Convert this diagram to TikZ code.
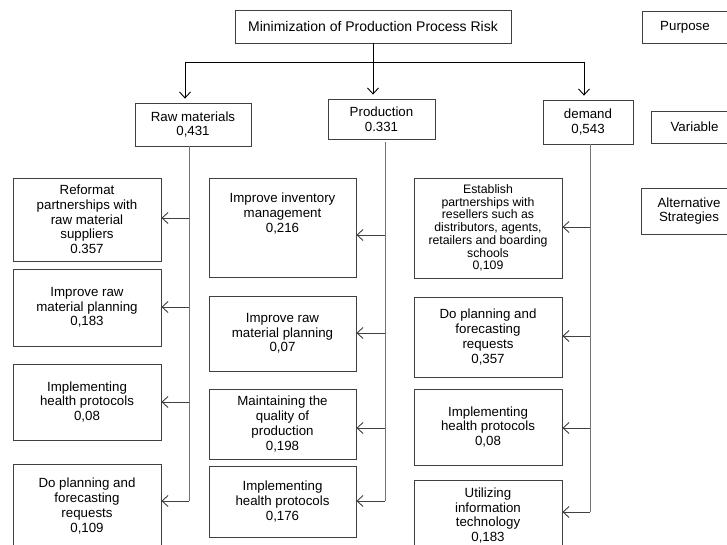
\documentclass[tikz,border=0pt]{standalone}
\usepackage{fontspec}
\setmainfont{Liberation Sans}
\usetikzlibrary{arrows.meta}
\tikzset{
  box/.style={draw=black!75, line width=0.8pt, align=center, inner sep=1pt,
    font=\fontsize{13.3}{14.7}\selectfont},
  titlebox/.style={box, font=\fontsize{14}{15}\selectfont},
  smallbox/.style={box, font=\fontsize{12.3}{12.7}\selectfont},
  link/.style={draw=black, line width=0.9pt},
  vline/.style={draw=black!55, line width=0.9pt},
  arr/.style={draw=black!75, line width=0.9pt, -{Straight Barb[length=6pt,width=11pt]}},
  darr/.style={draw=black, line width=0.9pt, -{Straight Barb[length=6pt,width=11pt]}, shorten >=4pt}
}
\newcommand{\bx}[7][box]{%
  \pgfmathsetmacro{\bw}{#5-#3}\pgfmathsetmacro{\bh}{#6-#4}%
  \pgfmathsetmacro{\bcx}{(#3+#5)/2}\pgfmathsetmacro{\bcy}{(#4+#6)/2}%
  \node[#1, minimum width=\bw pt, minimum height=\bh pt] (#2) at (\bcx,\bcy) {#7};}
\begin{document}
\begin{tikzpicture}[x=1pt,y=-1pt]
\clip (0,0) rectangle (727,545);
\fill[white] (0,0) rectangle (727,545);
% top level and legend
\bx[titlebox]{top}{235}{10}{511}{43}{Minimization of Production Process Risk}
\bx{purpose}{642}{11}{728}{43}{Purpose}
\bx{var}{651}{111}{738}{143}{Variable}
\bx{alt}{641}{188}{737}{234}{Alternative\\Strategies}
% variables
\bx{raw}{135}{103}{251}{146}{Raw materials\\0,431}
\bx{prod}{328}{99}{435}{139}{Production\\0.331}
\bx{dem}{543}{100}{633}{144}{demand\\0,543}
% left column
\bx{L1}{13}{178}{161}{261}{Reformat\\partnerships with\\raw material\\suppliers\\0.357}
\bx{L2}{13}{269}{161}{346}{Improve raw\\material planning\\0,183}
\bx{L3}{13}{364}{161}{440}{Implementing\\health protocols\\0,08}
\bx{L4}{13}{464}{161}{548}{Do planning and\\forecasting\\requests\\0,109}
% middle column
\bx{M1}{209}{178}{356}{277}{Improve inventory\\management\\0,216\\~\\~}
\bx{M2}{209}{296}{356}{371}{Improve raw\\material planning\\0,07}
\bx{M3}{209}{389}{356}{459}{Maintaining the\\quality of\\production\\0,198}
\bx{M4}{209}{466}{356}{537}{Implementing\\health protocols\\0,176}
% right column
\bx[smallbox]{R1}{414}{178}{562}{278}{Establish\\partnerships with\\resellers such as\\distributors, agents,\\retailers and boarding\\schools\\0,109}
\bx{R2}{414}{297}{562}{377}{Do planning and\\forecasting\\requests\\0,357}
\bx{R3}{414}{389}{562}{465}{Implementing\\health protocols\\0,08}
\bx{R4}{414}{480}{562}{551}{Utilizing\\information\\technology\\0,183}
% top connectors
\coordinate (hL) at (185,62);
\coordinate (hR) at (584,62);
\draw[link] (hL) -- (hR);
\draw[darr] (top.south) -- (top.south |- prod.north);
\draw[darr] (hL) -- (hL |- raw.north);
\draw[darr] (hR) -- (hR |- dem.north);
% left column connectors
\coordinate (la1) at (189,218);
\coordinate (la2) at (189,307);
\coordinate (la3) at (189,402);
\coordinate (la4) at (189,501);
\draw[vline] (raw.south -| la4) -- (la4);
\foreach \a/\b in {la1/L1,la2/L2,la3/L3,la4/L4}
  \draw[arr] (\a) -- (\a -| \b.east);
% middle column connectors
\coordinate (ma1) at (385,235);
\coordinate (ma2) at (385,333);
\coordinate (ma3) at (385,428);
\coordinate (ma4) at (385,501);
\draw[vline] ([yshift=-3pt]prod.south -| ma4) -- (ma4);
\foreach \a/\b in {ma1/M1,ma2/M2,ma3/M3,ma4/M4}
  \draw[arr] (\a) -- (\a -| \b.east);
% right column connectors
\coordinate (ra1) at (590,227);
\coordinate (ra2) at (590,336);
\coordinate (ra3) at (590,428);
\coordinate (ra4) at (590,512);
\draw[vline] (dem.south -| ra4) -- (ra4);
\foreach \a/\b in {ra1/R1,ra2/R2,ra3/R3,ra4/R4}
  \draw[arr] (\a) -- (\a -| \b.east);
\end{tikzpicture}
\end{document}
